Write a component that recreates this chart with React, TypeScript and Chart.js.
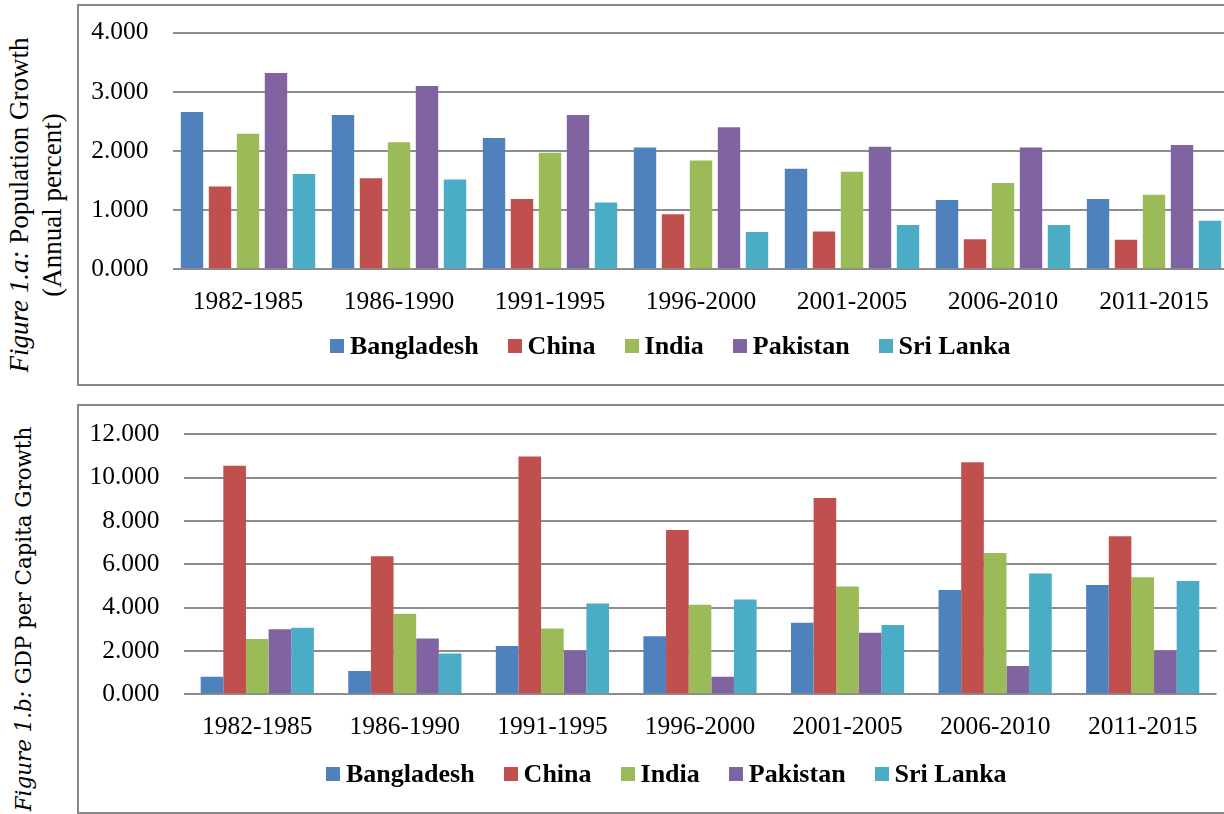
import React, { useEffect, useRef } from "react";
import { Chart, registerables } from "chart.js";

Chart.register(...registerables);

// ---------- data ----------
const categories = ["1982-1985", "1986-1990", "1991-1995", "1996-2000", "2001-2005", "2006-2010", "2011-2015"];
const seriesNames = ["Bangladesh", "China", "India", "Pakistan", "Sri Lanka"];
const seriesColors = ["#4F81BD", "#C0504D", "#9BBB59", "#8064A2", "#4BACC6"];

// Figure 1.a: Population growth (annual percent)
const popBangladesh = [2.66, 2.61, 2.22, 2.06, 1.70, 1.17, 1.19];
const popChina = [1.40, 1.54, 1.19, 0.93, 0.64, 0.51, 0.50];
const popIndia = [2.29, 2.15, 1.97, 1.84, 1.65, 1.46, 1.26];
const popPakistan = [3.32, 3.10, 2.61, 2.40, 2.07, 2.06, 2.10];
const popSriLanka = [1.61, 1.52, 1.13, 0.63, 0.75, 0.75, 0.82];
const popTicks = [0, 1, 2, 3, 4];

// Figure 1.b: GDP per capita growth
const gdpBangladesh = [0.81, 1.07, 2.23, 2.68, 3.30, 4.81, 5.04];
const gdpChina = [10.55, 6.37, 10.98, 7.58, 9.06, 10.71, 7.29];
const gdpIndia = [2.55, 3.72, 3.04, 4.13, 4.97, 6.52, 5.40];
const gdpPakistan = [3.00, 2.57, 2.01, 0.81, 2.84, 1.31, 2.01];
const gdpSriLanka = [3.07, 1.88, 4.19, 4.37, 3.20, 5.58, 5.23];
const gdpTicks = [0, 2, 4, 6, 8, 10, 12];

const popSeries = [popBangladesh, popChina, popIndia, popPakistan, popSriLanka];
const gdpSeries = [gdpBangladesh, gdpChina, gdpIndia, gdpPakistan, gdpSriLanka];

const SERIF = "'Liberation Serif', 'Times New Roman', serif";
const GRID = "#8c8c8c";

type BarChartProps = {
  series: number[][];
  ticks: number[];
  left: number;
  top: number;
  width: number;
  height: number;
  yAxisWidth: number;
  xAxisHeight: number;
  padTop: number;
  padRight: number;
  barPercentage: number;
  categoryPercentage: number;
};

function BarChart(p: BarChartProps) {
  const ref = useRef<HTMLCanvasElement | null>(null);
  useEffect(() => {
    if (!ref.current) return;
    const chart = new Chart(ref.current, {
      type: "bar",
      data: {
        labels: categories,
        datasets: p.series.map((vals, i) => ({
          label: seriesNames[i],
          data: vals,
          backgroundColor: seriesColors[i],
          borderWidth: 0,
          barPercentage: p.barPercentage,
          categoryPercentage: p.categoryPercentage,
        })),
      },
      options: {
        responsive: false,
        animation: false,
        devicePixelRatio: 1,
        layout: { padding: { top: p.padTop, right: p.padRight, left: 0, bottom: 0 } },
        plugins: { legend: { display: false }, tooltip: { enabled: false }, title: { display: false } },
        scales: {
          x: {
            grid: { display: false },
            border: { display: false },
            ticks: {
              color: "#000",
              font: { family: SERIF, size: 25.5 },
              padding: 9.5,
              maxRotation: 0,
              autoSkip: false,
            },
            afterFit: (s: any) => {
              s.height = p.xAxisHeight;
              s.paddingLeft = 0;
              s.paddingRight = 0;
            },
          },
          y: {
            min: p.ticks[0],
            max: p.ticks[p.ticks.length - 1],
            afterBuildTicks: (s: any) => {
              s.ticks = p.ticks.map((v) => ({ value: v }));
            },
            grid: { color: GRID, lineWidth: 2, drawTicks: false },
            border: { display: false },
            ticks: {
              color: "#000",
              font: { family: SERIF, size: 25.5 },
              padding: 24,
              callback: (v: any) => Number(v).toFixed(3),
            },
            afterFit: (s: any) => {
              s.width = p.yAxisWidth;
              s.paddingTop = 0;
              s.paddingBottom = 0;
            },
          },
        },
      },
    });
    return () => chart.destroy();
  }, []);
  return (
    <canvas
      ref={ref}
      width={p.width}
      height={p.height}
      style={{ position: "absolute", left: p.left, top: p.top, width: p.width, height: p.height }}
    />
  );
}

function Legend({ left, top }: { left: number; top: number }) {
  return (
    <div
      style={{
        position: "absolute",
        left,
        top,
        height: 30,
        display: "flex",
        alignItems: "center",
        whiteSpace: "nowrap",
        fontFamily: SERIF,
        fontWeight: "bold",
        fontSize: 26,
        lineHeight: "30px",
        color: "#000",
      }}
    >
      {seriesNames.map((n, i) => (
        <div key={n} style={{ display: "flex", alignItems: "center", marginRight: 29 }}>
          <div style={{ width: 14, height: 14, background: seriesColors[i], marginRight: 6 }} />
          <span>{n}</span>
        </div>
      ))}
    </div>
  );
}

export default function App() {
  return (
    <div
      style={{
        position: "absolute",
        left: 0,
        top: 0,
        width: 1224,
        height: 814,
        overflow: "hidden",
        background: "#fff",
      }}
    >
      {/* Top box */}
      <div
        style={{
          position: "absolute",
          left: 77,
          top: 4,
          width: 1200,
          height: 382,
          border: "2px solid #888",
          boxSizing: "border-box",
        }}
      />
      {/* Bottom box */}
      <div
        style={{
          position: "absolute",
          left: 77,
          top: 404,
          width: 1200,
          height: 410,
          border: "2px solid #888",
          boxSizing: "border-box",
        }}
      />

      {/* Rotated axis titles */}
      <div
        style={{
          position: "absolute",
          left: 36.4 - 220,
          top: 205 - 33,
          width: 440,
          height: 66,
          transform: "rotate(-90deg)",
          textAlign: "center",
          fontFamily: SERIF,
          fontSize: 27,
          lineHeight: "33px",
          whiteSpace: "nowrap",
          color: "#000",
        }}
      >
        <div>
          <i>Figure 1.a:</i> Population Growth
        </div>
        <div>(Annual percent)</div>
      </div>
      <div
        style={{
          position: "absolute",
          left: 24.2 - 220,
          top: 618.5 - 13,
          width: 440,
          height: 26,
          transform: "rotate(-90deg)",
          textAlign: "center",
          fontFamily: "'DejaVu Serif', serif",
          fontSize: 21.4,
          lineHeight: "26px",
          whiteSpace: "nowrap",
          color: "#000",
        }}
      >
        <i>Figure 1.b:</i> GDP per Capita Growth
      </div>

      <BarChart
        series={popSeries}
        ticks={popTicks}
        left={80}
        top={7}
        width={1160}
        height={376}
        yAxisWidth={92.5}
        xAxisHeight={113.7}
        padTop={25.7}
        padRight={10.5}
        barPercentage={0.8}
        categoryPercentage={0.927}
      />
      <BarChart
        series={gdpSeries}
        ticks={gdpTicks}
        left={80}
        top={407}
        width={1160}
        height={404}
        yAxisWidth={103.5}
        xAxisHeight={116.7}
        padTop={27.3}
        padRight={23.5}
        barPercentage={1}
        categoryPercentage={0.767}
      />

      <Legend left={330} top={331.2} />
      <Legend left={326} top={759.2} />
    </div>
  );
}
